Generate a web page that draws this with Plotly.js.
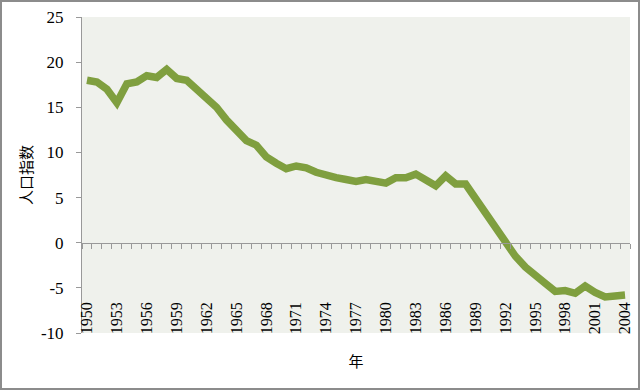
<!DOCTYPE html>
<html>
<head>
<meta charset="utf-8">
<script src="https://cdn.plot.ly/plotly-3.0.1.min.js"></script>
<style>
html,body{margin:0;padding:0;background:#fff;}
#frame{width:640px;height:390px;box-sizing:border-box;border:2px solid #8c8c8c;position:relative;overflow:hidden;}
#chart{position:absolute;left:-2px;top:-2px;width:640px;height:390px;}
</style>
</head>
<body>
<div id="frame"><div id="chart"></div></div>
<script>
const years = [1950,1951,1952,1953,1954,1955,1956,1957,1958,1959,
               1960,1961,1962,1963,1964,1965,1966,1967,1968,1969,
               1970,1971,1972,1973,1974,1975,1976,1977,1978,1979,
               1980,1981,1982,1983,1984,1985,1986,1987,1988,1989,
               1990,1991,1992,1993,1994,1995,1996,1997,1998,1999,
               2000,2001,2002,2003,2004];
const populationIndex = [18.0,17.8,17.0,15.5,17.6,17.8,18.5,18.3,19.2,18.2,
                         18.0,17.0,16.0,15.0,13.6,12.3,11.3,10.8,9.5,8.8,
                         8.2,8.5,8.3,7.8,7.4,7.2,7.0,6.8,7.0,6.8,
                         6.6,7.2,7.2,7.6,7.0,6.3,7.4,6.5,6.5,4.9,
                         3.2,1.6,0.1,-1.5,-2.7,-3.7,-4.5,-5.4,-5.3,-5.6,
                         -4.8,-5.5,-6.0,-5.9,-5.8];
const yTicks = [-10,-5,0,5,10,15,20,25];
const xTickYears = years.filter((y,i)=>i%3===0);
const boundaries = years.map(y=>y-0.5).concat([years[years.length-1]+0.5]);

const serif = '"Liberation Serif", "Times New Roman", serif';
const cjk = '"Noto Sans CJK SC", sans-serif';

const trace = {
  x: years, y: populationIndex, type:'scatter', mode:'lines',
  line:{color:'#7f9f3f', width:7.5}, hoverinfo:'skip'
};
// empty trace only so that the zero-line category axis (xaxis2) is drawn
const axisHolder = {x:[], y:[], type:'scatter', mode:'lines', xaxis:'x2', yaxis:'y', hoverinfo:'skip'};

const layout = {
  width:640, height:390,
  margin:{l:82, r:10, t:17, b:57, pad:0},
  paper_bgcolor:'#ffffff', plot_bgcolor:'#eff1ec',
  showlegend:false,
  font:{family:serif, size:16, color:'#000'},
  xaxis:{
    range:[1949.5, 2004.5], tickmode:'array', tickvals:xTickYears, ticktext:xTickYears.map(String),
    tickangle:-90, ticks:'', showline:false, showgrid:false, zeroline:false,
    ticklabelstandoff:-35,
    tickfont:{family:serif, size:16, color:'#000'},
    title:{text:'年', font:{family:cjk, size:15, color:'#000'}, standoff:23},
    automargin:false, fixedrange:true
  },
  xaxis2:{
    overlaying:'x', anchor:'free', position:10/35, side:'bottom',
    range:[1949.5, 2004.5], tickmode:'array', tickvals:boundaries,
    ticks:'outside', ticklen:5, tickcolor:'#999', tickwidth:1,
    showticklabels:false, showline:true, linecolor:'#999', linewidth:1,
    showgrid:false, zeroline:false, fixedrange:true
  },
  yaxis:{
    range:[-10,25], tickmode:'array', tickvals:yTicks, ticktext:yTicks.map(String),
    ticks:'outside', ticklen:5, tickcolor:'#999', showline:true, linecolor:'#999', linewidth:1,
    showgrid:false, zeroline:false, ticklabelstandoff:9,
    tickfont:{family:serif, size:17, color:'#000'},
    title:{text:'人口指数', font:{family:cjk, size:15, color:'#000'}, standoff:4},
    automargin:false, fixedrange:true
  }
};

Plotly.newPlot('chart', [trace, axisHolder], layout, {staticPlot:true, displayModeBar:false});
</script>
</body>
</html>
